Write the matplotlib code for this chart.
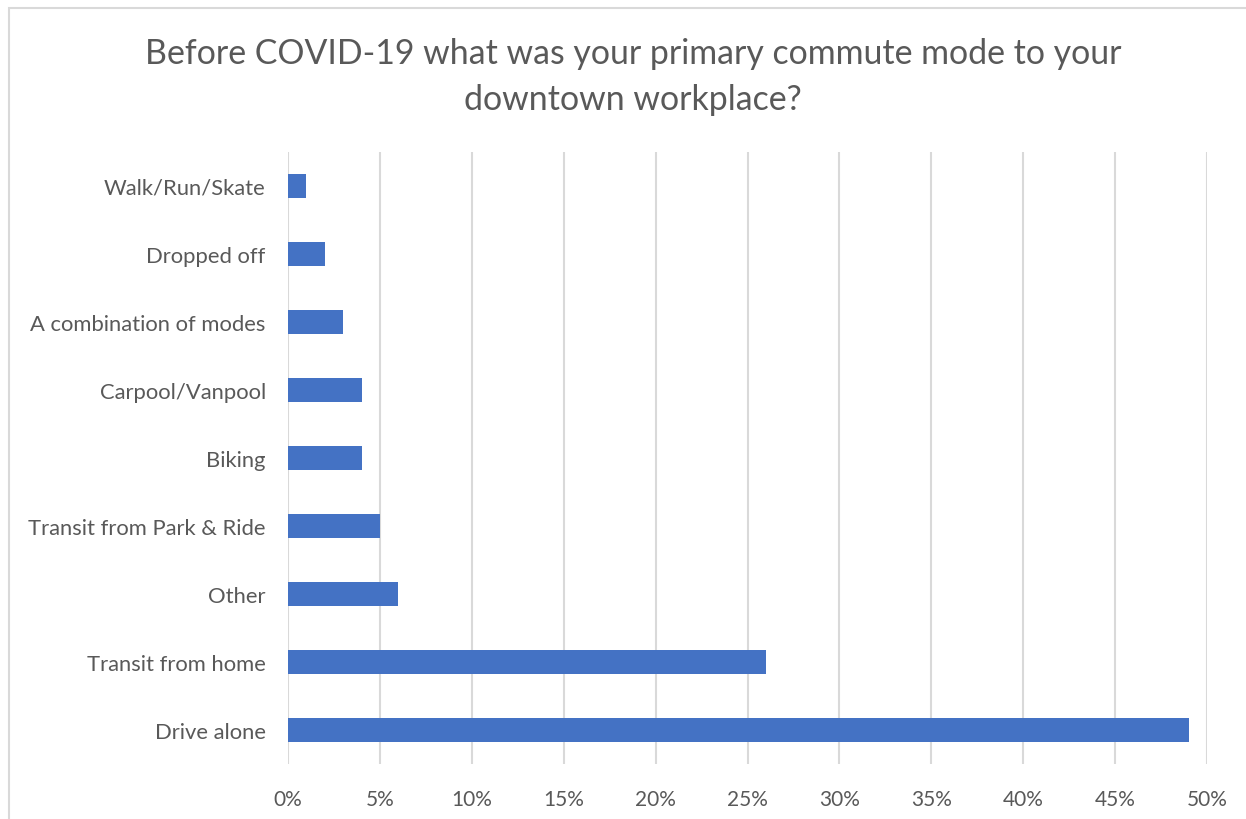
import matplotlib.pyplot as plt
from matplotlib.patches import Rectangle
from matplotlib.ticker import FuncFormatter

modos = ['Drive alone', 'Transit from home', 'Other', 'Transit from Park & Ride',
         'Biking', 'Carpool/Vanpool', 'A combination of modes', 'Dropped off',
         'Walk/Run/Skate']
porcentajes = [49, 26, 6, 5, 4, 4, 3, 2, 1]
marcas_x = [0, 5, 10, 15, 20, 25, 30, 35, 40, 45, 50]

plt.rcParams['font.family'] = ['Lato', 'DejaVu Sans']
gris_texto = '#595959'

fig = plt.figure(figsize=(12.46, 8.20), dpi=100)
ax = fig.add_axes([288 / 1246, 55 / 820, 919 / 1246, 612 / 820])

# marco gris del grafico
fig.patches.append(Rectangle((9 / 1246, -0.1), 1.2, (820 - 9) / 820 + 0.1,
                             transform=fig.transFigure, fill=False,
                             edgecolor='#d9d9d9', linewidth=1.5))

ax.barh(range(len(modos)), porcentajes, height=0.35, color='#4472c4', zorder=3)

ax.set_xlim(0, 50)
ax.set_ylim(-0.5, len(modos) - 0.5)
ax.set_xticks(marcas_x)
ax.xaxis.set_major_formatter(FuncFormatter(lambda v, p: f'{v:.0f}%'))
ax.set_yticks(range(len(modos)))
ax.set_yticklabels(modos)
ax.tick_params(axis='x', length=0, labelsize=15, colors=gris_texto, pad=18)
ax.tick_params(axis='y', length=0, labelsize=15.8, colors=gris_texto, pad=16)
ax.grid(axis='x', color='#d9d9d9', linewidth=1.5, zorder=0)
for s in ax.spines.values():
    s.set_visible(False)

fig.text(633 / 1246, 1 - 77 / 820,
         'Before COVID-19 what was your primary commute mode to your\ndowntown workplace?',
         ha='center', va='center', fontsize=24.4, color=gris_texto, linespacing=1.55)

plt.savefig('out.png', dpi=100)
